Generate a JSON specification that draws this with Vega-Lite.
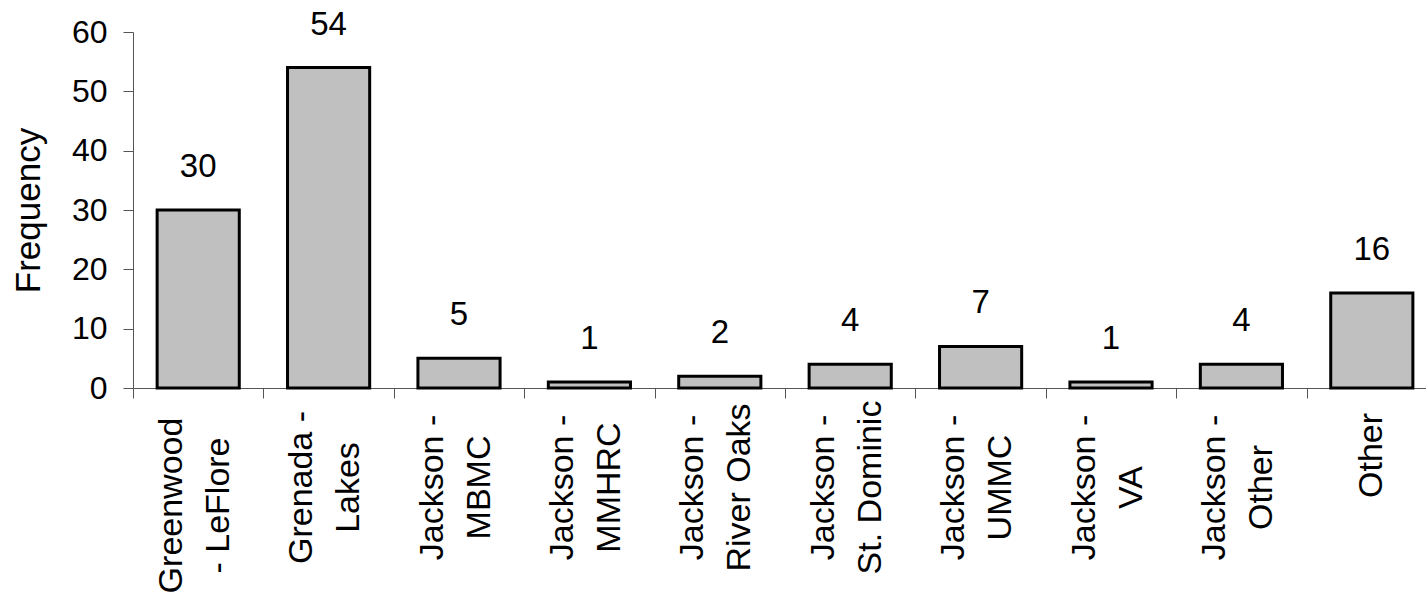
{
  "$schema": "https://vega.github.io/schema/vega-lite/v6.json",
  "autosize": {"type": "none"},
  "width": 1293,
  "height": 356,
  "padding": {"left": 133, "top": 32, "right": 0, "bottom": 208},
  "background": "white",
  "config": {"view": {"stroke": null}, "font": "Liberation Sans"},
  "data": {
    "values": [
      {"site": "Greenwood - LeFlore", "count": 30},
      {"site": "Grenada - Lakes", "count": 54},
      {"site": "Jackson - MBMC", "count": 5},
      {"site": "Jackson - MMHRC", "count": 1},
      {"site": "Jackson - River Oaks", "count": 2},
      {"site": "Jackson - St. Dominic", "count": 4},
      {"site": "Jackson - UMMC", "count": 7},
      {"site": "Jackson - VA", "count": 1},
      {"site": "Jackson - Other", "count": 4},
      {"site": "Other", "count": 16}
    ]
  },
  "encoding": {
    "x": {
      "field": "site",
      "type": "nominal",
      "sort": null,
      "scale": {"range": [0, 1304], "paddingInner": 0, "paddingOuter": 0},
      "axis": {
        "title": null,
        "labelAngle": -90,
        "labelAlign": "center",
        "labelBaseline": "middle",
        "labelFontSize": 34,
        "labelLineHeight": 47,
        "labelColor": "black",
        "labelLimit": 400,
        "labelPadding": {
          "condition": [
            {"test": "datum.value == 'Greenwood - LeFlore'", "value": 107},
            {"test": "datum.value == 'Other'", "value": 57}
          ],
          "value": 89
        },
        "labelOffset": {
          "condition": {"test": "datum.value == 'Other'", "value": 0},
          "value": -27
        },
        "labelExpr": "datum.label == 'Greenwood - LeFlore' ? ['Greenwood', '- LeFlore'] : indexof(datum.label, ' - ') < 0 ? datum.label : [slice(datum.label, 0, indexof(datum.label, ' - ') + 2), slice(datum.label, indexof(datum.label, ' - ') + 3)]",
        "tickBand": "extent",
        "tickSize": 10,
        "tickColor": "#555555",
        "domainColor": "#555555",
        "labelOverlap": false
      }
    },
    "y": {
      "field": "count",
      "type": "quantitative",
      "scale": {"domain": [0, 60], "nice": false},
      "axis": {
        "title": "Frequency",
        "titleFontSize": 35,
        "titleFontWeight": "normal",
        "titleColor": "black",
        "titleAngle": -90,
        "titleX": -94,
        "titleY": 178,
        "titleAlign": "center",
        "titleBaseline": "alphabetic",
        "values": [0, 10, 20, 30, 40, 50, 60],
        "labelFontSize": 32,
        "labelColor": "black",
        "labelPadding": 16,
        "tickSize": 10,
        "tickColor": "#555555",
        "domainColor": "#555555",
        "grid": false
      }
    }
  },
  "layer": [
    {
      "mark": {"type": "bar", "width": {"band": 0.63}, "fill": "#c0c0c0", "stroke": "black", "strokeWidth": 3}
    },
    {
      "mark": {"type": "text", "dy": -33, "baseline": "alphabetic", "align": "center", "fontSize": 33, "color": "black"},
      "encoding": {"text": {"field": "count", "type": "quantitative"}}
    }
  ]
}
